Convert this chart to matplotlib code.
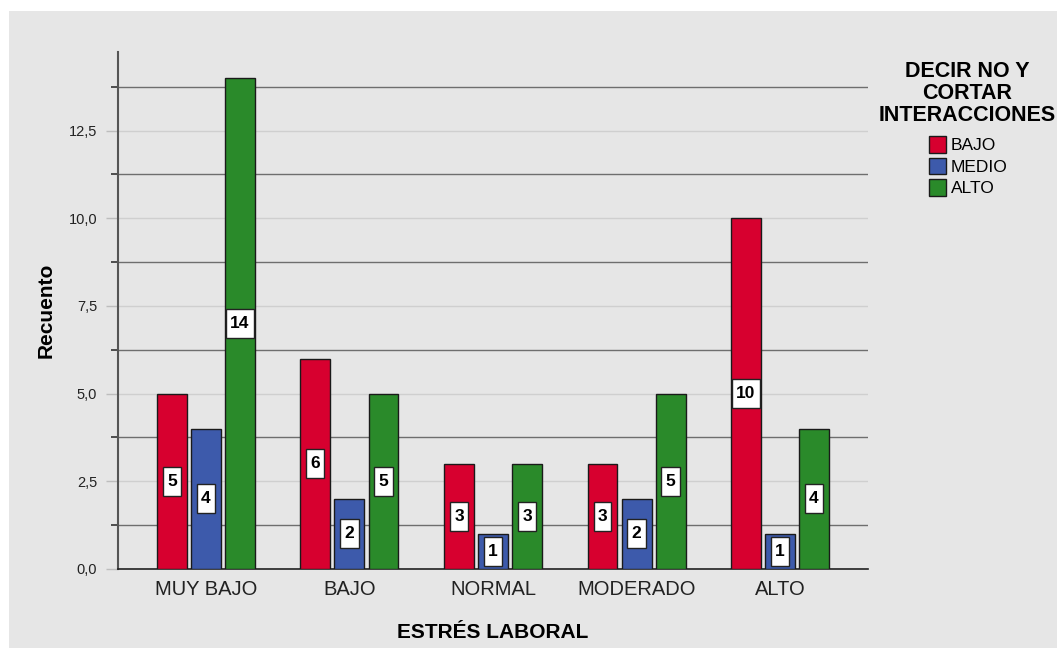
import matplotlib
matplotlib.use("Agg")
import matplotlib.pyplot as plt
import numpy as np
from matplotlib.patches import Rectangle, Patch
from matplotlib.path import Path

plt.rcParams['font.family'] = ['Liberation Sans', 'DejaVu Sans']

categories = ['MUY BAJO', 'BAJO', 'NORMAL', 'MODERADO', 'ALTO']
series_names = ['BAJO', 'MEDIO', 'ALTO']
bajo = [5, 6, 3, 3, 10]
medio = [4, 2, 1, 2, 1]
alto = [14, 5, 3, 5, 4]
yticks = [0, 2.5, 5, 7.5, 10, 12.5]
ytick_labels = ['0,0', '2,5', '5,0', '7,5', '10,0', '12,5']
minor_ticks = [1.25, 3.75, 6.25, 8.75, 11.25, 13.75]

colors = ['#d7002f', '#3d5aab', '#2a8a2a']
bg = '#e6e6e6'


def label_box(x0, y0, width, height, mutation_size):
    px = 0.24 * mutation_size
    py = 0.4 * mutation_size
    x1, y1 = x0 + width + px, y0 + height + py
    x0, y0 = x0 - px, y0 - py
    return Path([(x0, y0), (x1, y0), (x1, y1), (x0, y1), (x0, y0)], closed=True)


fig = plt.figure(figsize=(10.57, 6.51), dpi=100, facecolor='white')
fig.patches.append(Rectangle((9/1057, 3/651), 1 - 9/1057, 1 - 14/651,
                             transform=fig.transFigure, facecolor=bg,
                             edgecolor='none', zorder=-10))

ax = fig.add_axes([118/1057, 1 - 569/651, 750/1057, 517/651])
ax.set_facecolor(bg)

x = np.arange(len(categories))
step = 0.237
width = 0.209
series = [bajo, medio, alto]
for i, (vals, c) in enumerate(zip(series, colors)):
    xpos = x + (i - 1) * step
    ax.bar(xpos, vals, width=width, color=c, edgecolor='#1a1a1a',
           linewidth=1.0, zorder=3)
    for xp, v in zip(xpos, vals):
        ax.text(xp, v / 2, str(v), ha='center', va='center', fontsize=12.5,
                fontweight='bold', color='black', zorder=5,
                bbox=dict(boxstyle=label_box, facecolor='white',
                          edgecolor='#222222', linewidth=1.0))

ax.set_xlim(-0.613, 4.613)
ax.set_ylim(0, 14.74)
ax.set_yticks(yticks)
ax.set_yticklabels(ytick_labels, fontsize=10.5, color='#222222')
ax.set_yticks(minor_ticks, minor=True)
ax.set_xticks(x)
ax.set_xticklabels(categories, fontsize=14.5, color='#222222')

ax.grid(axis='y', which='major', color='#cfcfcf', linewidth=1.0, zorder=1)
ax.grid(axis='y', which='minor', color='#6e6e6e', linewidth=1.0, zorder=1)
ax.tick_params(axis='y', which='major', length=9, color='#bdbdbd', width=1, pad=6)
ax.tick_params(axis='y', which='minor', length=5, color='#333333', width=1.2)
ax.tick_params(axis='x', length=0, pad=8)

for s in ['top', 'right']:
    ax.spines[s].set_visible(False)
ax.spines['left'].set_color('#555555')
ax.spines['left'].set_linewidth(1.5)
ax.spines['bottom'].set_color('#222222')
ax.spines['bottom'].set_linewidth(1.2)

ax.set_ylabel('Recuento', fontsize=15, fontweight='bold', labelpad=9)
ax.set_xlabel('ESTRÉS LABORAL', fontsize=15, fontweight='bold', labelpad=17)

fig.text(967/1057, 1 - 61/651, 'DECIR NO Y\nCORTAR\nINTERACCIONES', ha='center',
         va='top', fontsize=15.5, fontweight='bold', linespacing=1.05,
         multialignment='center')

handles = [Patch(facecolor=c, edgecolor='#1a1a1a', linewidth=1.0) for c in colors]
fig.legend(handles, series_names, loc='upper left',
           bbox_to_anchor=(929/1057, 1 - 136/651), frameon=False,
           fontsize=12.5, handlelength=1.0, handleheight=1.1, handletextpad=0.25,
           labelspacing=0.25, borderaxespad=0, borderpad=0)

fig.savefig('out.png', dpi=100, facecolor='white')
